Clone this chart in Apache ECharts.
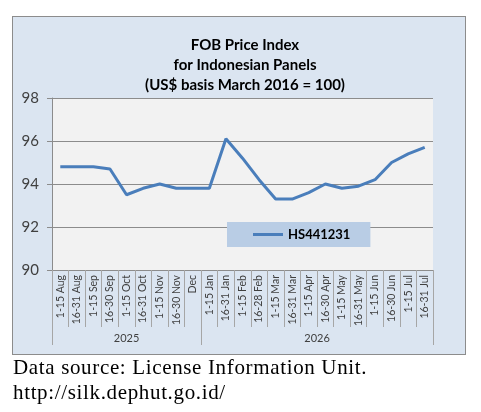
<!DOCTYPE html>
<html>
<head>
<meta charset="utf-8">
<script src="https://cdn.jsdelivr.net/npm/echarts@6/dist/echarts.min.js"></script>
<style>
  html, body { margin: 0; padding: 0; background: #fff; }
  #box {
    position: absolute; left: 12px; top: 16px; width: 452px; height: 337px;
    background: #dbe5f1; border: 1.5px solid #8c8c8c;
  }
  #chart { position: absolute; left: 0; top: 0; width: 481px; height: 412px; }
  #source {
    position: absolute; left: 13px; top: 355px; white-space: nowrap;
    font-family: "Liberation Serif", "DejaVu Serif", serif; font-size: 21px; line-height: 25px;
    letter-spacing: 0.65px; color: #000;
  }
</style>
</head>
<body>
<div id="box"></div>
<div id="chart"></div>
<div id="source">Data source: License Information Unit.<br>http://silk.dephut.go.id/</div>
<script>
var periods = ['1-15 Aug', '16-31 Aug', '1-15 Sep', '16-30 Sep', '1-15 Oct', '16-31 Oct',
               '1-15 Nov', '16-30 Nov', 'Dec',
               '1-15 Jan', '16-31 Jan', '1-15 Feb', '16-28 Feb', '1-15 Mar', '16-31 Mar',
               '1-15 Apr', '16-30 Apr', '1-15 May', '16-31 May', '1-15 Jun', '16-30 Jun',
               '1-15 Jul', '16-31 Jul'];
var years = ['2025', '2026'];
var yearLength = [9, 14];
var hs441231 = [94.8, 94.8, 94.8, 94.7, 93.5, 93.8, 94.0, 93.8, 93.8,
                93.8, 96.1, 95.2, 94.2, 93.3, 93.3, 93.6, 94.0, 93.8, 93.9, 94.2, 95.0, 95.4, 95.7];
var yTicks = [90, 92, 94, 96, 98];

// year axis in half-category steps: boundaryGap false puts slot k at k/2 categories
var yearSlots = [];
var yearEdges = [0];
var yearCentres = {};
(function () {
    var start = 0;
    for (var i = 0; i < years.length; i++) {
        yearCentres[start + yearLength[i]] = years[i];
        start += yearLength[i] * 2;
        yearEdges.push(start);
    }
    for (var k = 0; k <= start; k++) {
        yearSlots.push(yearCentres[k] || '');
    }
})();

var font = 'Lato, "Open Sans", sans-serif';
var chart = echarts.init(document.getElementById('chart'));
chart.setOption({
    animation: false,
    title: {
        text: 'FOB Price Index\nfor Indonesian Panels\n(US$ basis March 2016 = 100)',
        left: 240, top: 30, textAlign: 'center',
        textStyle: { fontFamily: font, fontSize: 15, fontWeight: 'bold', color: '#000', lineHeight: 20 }
    },
    legend: {
        data: [{ name: 'HS441231', icon: 'rect' }],
        left: 227, top: 222,
        backgroundColor: '#b9cde5',
        padding: [6, 20, 6, 26],
        itemWidth: 30, itemHeight: 3, itemGap: 0,
        textStyle: { fontFamily: font, fontSize: 13, fontWeight: 'bold', color: '#000' }
    },
    grid: {
        left: 52, top: 98, right: 48, bottom: 142,
        show: true, backgroundColor: '#f2f2f2', borderWidth: 0
    },
    xAxis: [{
        type: 'category',
        data: periods,
        axisLine: { lineStyle: { color: '#8c8c8c', width: 1 } },
        axisTick: { show: true, interval: 0, length: 57, lineStyle: { color: '#a6a6a6' } },
        axisLabel: {
            interval: 0, rotate: 90, margin: 5,
            fontFamily: font, fontSize: 10.5, color: '#404040'
        }
    }, {
        type: 'category',
        data: yearSlots,
        boundaryGap: false,
        position: 'bottom',
        axisLine: { show: false },
        axisTick: {
            show: true, length: 75, lineStyle: { color: '#a6a6a6' },
            interval: function (idx) { return yearEdges.indexOf(idx) >= 0; }
        },
        axisLabel: {
            margin: 63, fontFamily: font, fontSize: 11, color: '#404040',
            interval: function (idx, val) { return val !== ''; }
        }
    }],
    yAxis: {
        type: 'value',
        min: yTicks[0], max: yTicks[yTicks.length - 1], interval: 2,
        axisLine: { show: true, lineStyle: { color: '#8c8c8c' } },
        axisTick: { show: true, length: 5, lineStyle: { color: '#8c8c8c' } },
        splitLine: { lineStyle: { color: '#8c8c8c', width: 1 } },
        axisLabel: { margin: 13, fontFamily: font, fontSize: 15, color: '#404040' }
    },
    series: [{
        name: 'HS441231',
        type: 'line',
        data: hs441231,
        symbol: 'none',
        lineStyle: { color: '#4a7ebb', width: 3 },
        itemStyle: { color: '#4a7ebb' }
    }]
});
</script>
</body>
</html>
